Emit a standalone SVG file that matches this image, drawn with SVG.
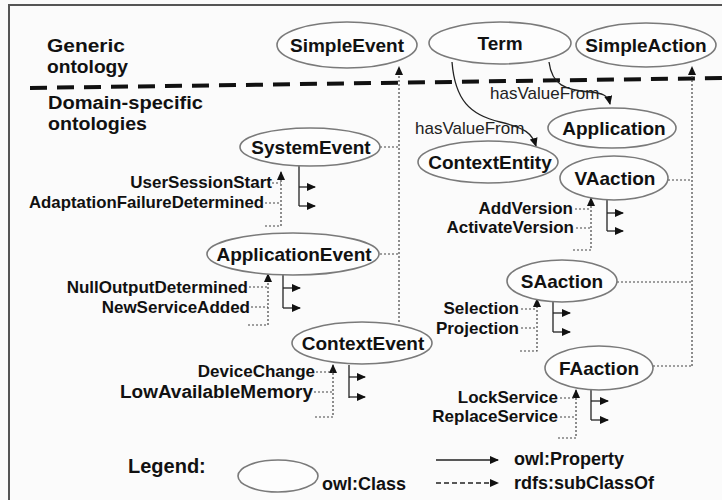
<svg xmlns="http://www.w3.org/2000/svg" width="722" height="500" viewBox="0 0 722 500">
<defs>
<marker id="ah" markerUnits="userSpaceOnUse" markerWidth="9" markerHeight="8" refX="8" refY="4" orient="auto"><path d="M0,0 L9,4 L0,8 z" fill="#111"/></marker>
<style>
.bg{fill:#fbfbfb}
.frame{fill:none;stroke:#555;stroke-width:2}
.node{fill:#fdfdfd;stroke:#7a7a7a;stroke-width:1.6}
.nt{font-family:"Liberation Sans",Arial,sans-serif;font-weight:bold;font-size:19px;fill:#111;text-anchor:middle}
.hdr{font-family:"Liberation Sans",Arial,sans-serif;font-weight:bold;font-size:18px;fill:#111}
.lab{font-family:"Liberation Sans",Arial,sans-serif;font-weight:bold;font-size:17px;fill:#111;text-anchor:end}
.rel{font-family:"Liberation Sans",Arial,sans-serif;font-size:17px;fill:#222}
.leg{font-family:"Liberation Sans",Arial,sans-serif;font-weight:bold;font-size:18px;fill:#111}
.dot{fill:none;stroke:#444;stroke-width:1.2;stroke-dasharray:2 2}
.sol{fill:none;stroke:#222;stroke-width:1.3}
.sep{fill:none;stroke:#111;stroke-width:4;stroke-dasharray:17 10}
</style>
</defs>
<rect class="bg" x="0" y="0" width="722" height="500"/>
<path class="frame" d="M9,500 V5 H722"/>
<text class="hdr" x="47" y="52" textLength="78" lengthAdjust="spacingAndGlyphs">Generic</text>
<text class="hdr" x="47" y="73" textLength="81" lengthAdjust="spacingAndGlyphs">ontology</text>
<text class="hdr" x="48" y="109" textLength="155" lengthAdjust="spacingAndGlyphs">Domain-specific</text>
<text class="hdr" x="48" y="130" textLength="99" lengthAdjust="spacingAndGlyphs">ontologies</text>
<path class="sep" d="M30,88 L722,78"/>

<g id="connectors">
<!-- hasValueFrom curves -->
<path class="sol" d="M452,62 C455,100 470,115 500,122 C525,128 532,133 536,146" marker-end="url(#ah)"/>
<path class="sol" d="M549,62 C552,85 565,90 590,92 C602,93 608,95 610,104" marker-end="url(#ah)"/>
<text class="rel" x="490" y="99">hasValueFrom</text>
<text class="rel" x="415" y="134">hasValueFrom</text>
<!-- SimpleEvent subclass bus -->
<path class="dot" d="M399,322 V67" marker-end="url(#ah)"/>
<path class="dot" d="M380,147 H399"/>
<path class="dot" d="M380,254 H399"/>
<!-- SimpleAction subclass bus -->
<path class="dot" d="M692,366 V67" marker-end="url(#ah)"/>
<path class="dot" d="M668,180 H692"/>
<path class="dot" d="M617,282 H692"/>
<path class="dot" d="M653,366 H692"/>
<!-- SystemEvent -->
<path class="dot" d="M265,226 H281 V172" marker-end="url(#ah)"/>
<path class="dot" d="M272,183 H281"/>
<path class="dot" d="M265,203 H281"/>
<path class="sol" d="M299,165 V206"/>
<path class="sol" d="M299,187 H315" marker-end="url(#ah)"/>
<path class="sol" d="M299,206 H315" marker-end="url(#ah)"/>
<!-- ApplicationEvent -->
<path class="dot" d="M248,325 H268 V274" marker-end="url(#ah)"/>
<path class="dot" d="M249,287 H268"/>
<path class="dot" d="M251,307 H268"/>
<path class="sol" d="M283,275 V308"/>
<path class="sol" d="M283,288 H300" marker-end="url(#ah)"/>
<path class="sol" d="M283,308 H300" marker-end="url(#ah)"/>
<!-- ContextEvent -->
<path class="dot" d="M315,417 H333 V365" marker-end="url(#ah)"/>
<path class="dot" d="M316,372 H333"/>
<path class="dot" d="M314,392 H333"/>
<path class="sol" d="M349,365 V398"/>
<path class="sol" d="M349,377 H365" marker-end="url(#ah)"/>
<path class="sol" d="M349,397 H365" marker-end="url(#ah)"/>
<!-- VAaction -->
<path class="dot" d="M573,250 H591 V198" marker-end="url(#ah)"/>
<path class="dot" d="M575,209 H591"/>
<path class="dot" d="M576,228 H591"/>
<path class="sol" d="M607,200 V231"/>
<path class="sol" d="M607,213 H623" marker-end="url(#ah)"/>
<path class="sol" d="M607,231 H623" marker-end="url(#ah)"/>
<!-- SAaction -->
<path class="dot" d="M520,351 H537 V299" marker-end="url(#ah)"/>
<path class="dot" d="M521,309 H537"/>
<path class="dot" d="M521,328 H537"/>
<path class="sol" d="M553,302 V332"/>
<path class="sol" d="M553,313 H570" marker-end="url(#ah)"/>
<path class="sol" d="M553,332 H570" marker-end="url(#ah)"/>
<!-- FAaction -->
<path class="dot" d="M558,438 H576 V390" marker-end="url(#ah)"/>
<path class="dot" d="M560,398 H576"/>
<path class="dot" d="M560,417 H576"/>
<path class="sol" d="M591,390 V420"/>
<path class="sol" d="M591,401 H608" marker-end="url(#ah)"/>
<path class="sol" d="M591,420 H608" marker-end="url(#ah)"/>
</g>

<g id="n-SimpleEvent"><ellipse class="node" cx="347" cy="45" rx="70" ry="23"/><text class="nt" x="347" y="52">SimpleEvent</text></g>
<g id="n-Term"><ellipse class="node" cx="500" cy="43" rx="71" ry="21"/><text class="nt" x="500" y="50">Term</text></g>
<g id="n-SimpleAction"><ellipse class="node" cx="646" cy="45" rx="70" ry="22"/><text class="nt" x="646" y="52">SimpleAction</text></g>
<g id="n-Application"><ellipse class="node" cx="612" cy="128" rx="64" ry="20"/><text class="nt" x="614" y="135">Application</text></g>
<g id="n-ContextEntity"><ellipse class="node" cx="488" cy="162" rx="70" ry="21"/><text class="nt" x="490" y="169">ContextEntity</text></g>
<g id="n-VAaction"><ellipse class="node" cx="614" cy="178" rx="54" ry="22"/><text class="nt" x="615" y="185">VAaction</text></g>
<g id="n-SystemEvent"><ellipse class="node" cx="310" cy="147" rx="70" ry="19"/><text class="nt" x="311" y="154">SystemEvent</text></g>
<g id="n-ApplicationEvent"><ellipse class="node" cx="293" cy="254" rx="86" ry="21"/><text class="nt" x="294" y="261">ApplicationEvent</text></g>
<g id="n-ContextEvent"><ellipse class="node" cx="362" cy="343" rx="70" ry="21"/><text class="nt" x="363" y="350">ContextEvent</text></g>
<g id="n-SAaction"><ellipse class="node" cx="562" cy="281" rx="55" ry="21"/><text class="nt" x="562" y="288">SAaction</text></g>
<g id="n-FAaction"><ellipse class="node" cx="599" cy="368" rx="54" ry="22"/><text class="nt" x="599" y="375">FAaction</text></g>

<g id="labels">
<text class="lab" x="272" y="188">UserSessionStart</text>
<text class="lab" x="264" y="208" textLength="235" lengthAdjust="spacingAndGlyphs">AdaptationFailureDetermined</text>
<text class="lab" x="248" y="293">NullOutputDetermined</text>
<text class="lab" x="250" y="313">NewServiceAdded</text>
<text class="lab" x="315" y="377">DeviceChange</text>
<text class="lab" x="313" y="398" style="font-size:18px" textLength="193" lengthAdjust="spacingAndGlyphs">LowAvailableMemory</text>
<text class="lab" x="573" y="214">AddVersion</text>
<text class="lab" x="574" y="233">ActivateVersion</text>
<text class="lab" x="519" y="314">Selection</text>
<text class="lab" x="519" y="334">Projection</text>
<text class="lab" x="558" y="403">LockService</text>
<text class="lab" x="558" y="422">ReplaceService</text>
</g>

<g id="legend">
<text class="leg" x="128" y="473" style="font-size:20px">Legend:</text>
<ellipse class="node" cx="278" cy="476" rx="40" ry="16"/>
<text class="leg" x="322" y="490">owl:Class</text>
<path class="sol" d="M436,460 H498" marker-end="url(#ah)"/>
<path class="sol" d="M436,483 H498" style="stroke-dasharray:5 3" marker-end="url(#ah)"/>
<text class="leg" x="514" y="465">owl:Property</text>
<text class="leg" x="514" y="489">rdfs:subClassOf</text>
</g>
</svg>
